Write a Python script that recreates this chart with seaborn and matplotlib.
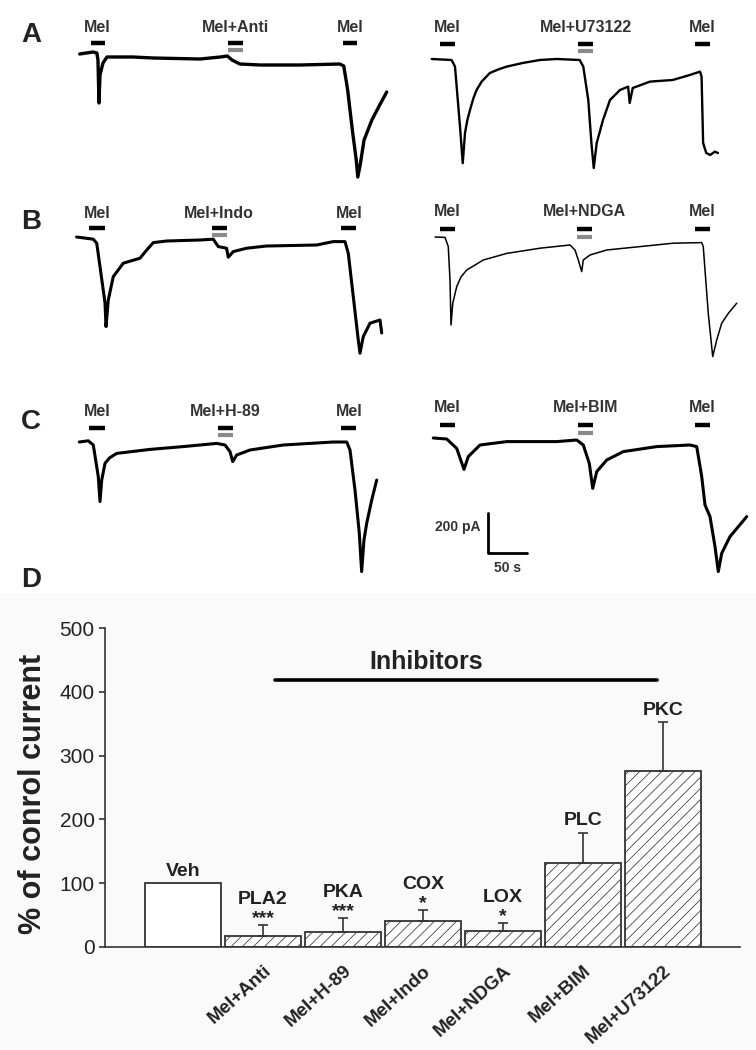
import numpy as np
import seaborn as sns
import matplotlib.pyplot as plt
from matplotlib.patches import Rectangle
from matplotlib.transforms import ScaledTranslation

sns.set_style("white")
plt.rcParams["font.family"] = ["Liberation Sans", "DejaVu Sans"]
plt.rcParams["hatch.linewidth"] = 0.55

# ---------------- panel D: % of control current ----------------
groups = ["Veh", "Mel+Anti", "Mel+H-89", "Mel+Indo", "Mel+NDGA", "Mel+BIM", "Mel+U73122"]
targets = ["Veh", "PLA2", "PKA", "COX", "LOX", "PLC", "PKC"]
pct = [100, 17, 24, 40, 25, 131, 276]
sem = [0, 17, 21, 18, 12, 48, 76]
stars = ["", "***", "***", "*", "*", "", ""]

# ---------------- traces: time (s) / current (pA) ----------------
a_left_t = [6, 23, 28, 29.4, 30.7, 32, 35.8, 41, 74, 100, 160, 186, 195, 201, 211, 237, 288, 339, 344,
            349, 355, 360, 362, 365, 370, 380, 390, 399]
a_left_i = [15, 25, 20, -15, -230, -90, -30, 0, 0, -5, -10, 0, 5, -15, -35, -40, -40, -35, -45,
            -165, -365, -515, -600, -540, -415, -315, -240, -175]
a_right_t = [8.6, 34, 38.4, 44.8, 48.3, 51.2, 54.2, 57.6, 61.9, 66, 72.5, 83, 93.9, 104.6, 125, 147, 168.6,
             198, 202.6, 209, 213, 216, 219.8, 227.8, 236.8, 249.6, 260, 262, 265.9, 288, 317, 339, 352,
             354, 356, 360, 365, 371, 375]
a_right_i = [0, -5, -38, -338, -521, -370, -305, -255, -197, -155, -113, -70, -52, -38, -20, -5, 0,
             -5, -38, -205, -420, -545, -420, -305, -205, -155, -138, -220, -145, -113, -105, -80, -63,
             -88, -420, -470, -480, -463, -470]
b_left_t = [2, 23.4, 27.8, 32, 38.4, 39.7, 42.6, 49, 61.8, 83.2, 91.8, 100.2, 117.4, 160, 177, 183.4, 194,
            196.2, 202.6, 219.8, 245.4, 309.4, 330.6, 345.6, 349.8, 356.2, 362.6, 364.8, 369, 377.6, 390.4, 392.6]
b_left_i = [0, -11, -31, -148, -330, -448, -315, -198, -131, -106, -65, -28, -20, -15, -11, -48, -56,
            -101, -73, -56, -45, -40, -23, -23, -81, -298, -515, -581, -498, -431, -415, -480]
b_right_t = [12.8, 25.6, 29.8, 32, 33.3, 35.5, 40.6, 46, 53.4, 74.6, 104.6, 147.2, 185.6, 192, 196.2, 200.6,
             202.6, 211.2, 232.6, 275.2, 317.8, 354.2, 356.2, 358.4, 362.6, 368.3, 373.4, 379.8, 388.2, 399]
b_right_i = [0, -2, -48, -215, -440, -332, -248, -200, -165, -115, -82, -56, -40, -65, -115, -173,
             -115, -90, -65, -48, -31, -28, -48, -165, -382, -598, -515, -431, -382, -331]
c_left_t = [5.5, 17, 23.4, 29.8, 32, 34.2, 38.4, 44, 53.4, 96, 138.6, 181.4, 192, 198.4, 201.9, 207, 224,
            266.6, 330.6, 347.8, 352, 358.4, 363.9, 366.9, 369.9, 373.4, 379.8, 386.2]
c_left_i = [0, 6, -15, -173, -298, -190, -107, -80, -57, -37, -23, -7, -15, -48, -98, -65, -40,
            -15, 0, 0, -40, -240, -456, -648, -490, -406, -290, -190]
c_right_t = [10.6, 27.8, 40.6, 49.9, 55.4, 70.4, 104.6, 168.6, 194.2, 202.6, 210.3, 214.7, 219.8, 232.6,
             253.8, 296.6, 339.2, 347.8, 354.2, 358.4, 364.8, 371.2, 375.4, 379.8, 390.4, 411.8]
c_right_i = [0, -5, -52, -157, -93, -35, -18, -18, -10, -35, -127, -252, -168, -110,
             -68, -43, -35, -43, -193, -335, -393, -543, -668, -576, -493, -393]

# drug applications (start, end) in s
a_left_drugs = [("Mel", 20, 38), ("Mel+Anti", 196, 215), ("Mel", 343, 361)]
a_right_drugs = [("Mel", 19, 38), ("Mel+U73122", 196, 215), ("Mel", 346, 365)]
b_left_drugs = [("Mel", 18, 38), ("Mel+Indo", 175, 194), ("Mel", 341, 360)]
b_right_drugs = [("Mel", 19, 38), ("Mel+NDGA", 195, 214), ("Mel", 346, 365)]
c_left_drugs = [("Mel", 18, 38), ("Mel+H-89", 183, 202), ("Mel", 341, 360)]
c_right_drugs = [("Mel", 19, 38), ("Mel+BIM", 196, 215), ("Mel", 346, 365)]

scale_pA = 200
scale_s = 50

W, H = 756, 1050
fig = plt.figure(figsize=(W / 100, H / 100), dpi=100)
fig.add_artist(Rectangle((0, 0), 1, 1 - 593 / H, transform=fig.transFigure,
                         facecolor="#fafafa", edgecolor="none", zorder=-10))

S_PER_PX, PA_PER_PX = 1.28, 5.0


def trace_axes(x0, base):
    ax = fig.add_axes([x0 / W, 1 - (base + 140) / H, 325 / W, 200 / H])
    ax.set_xlim(0, 325 * S_PER_PX)
    ax.set_ylim(-140 * PA_PER_PX, 60 * PA_PER_PX)
    ax.axis("off")
    return ax


def draw_trace(ax, t, cur, drugs, lw, bar_y, gray_y, lab_y):
    sns.lineplot(x=t, y=cur, ax=ax, color="black", lw=lw, sort=False, estimator=None)
    for k, (name, s0, s1) in enumerate(drugs):
        ax.hlines(bar_y, s0, s1, color="black", lw=3.2)
        if k == 1:
            ax.hlines(gray_y, s0, s1, color="#8a8a8a", lw=3.0)
        ax.text((s0 + s1) / 2, lab_y, name, ha="center", va="center", fontsize=11.5,
                weight="bold", color="#333333")


panels = [
    (75, 57, a_left_t, a_left_i, a_left_drugs, 2.4, 70, 35, 150),
    (425, 59, a_right_t, a_right_i, a_right_drugs, 1.7, 75, 40, 160),
    (75, 237, b_left_t, b_left_i, b_left_drugs, 2.2, 43, 10, 120),
    (425, 237, b_right_t, b_right_i, b_right_drugs, 1.1, 38, 2, 127),
    (75, 442, c_left_t, c_left_i, c_left_drugs, 2.2, 68, 35, 152),
    (425, 438, c_right_t, c_right_i, c_right_drugs, 2.2, 65, 27, 150),
]
trace_ax = []
for x0, base, t, cur, drugs, lw, by, gy, ly in panels:
    ax = trace_axes(x0, base)
    draw_trace(ax, t, cur, drugs, lw, by, gy, ly)
    trace_ax.append(ax)

# scale bar in last trace panel
sb = trace_ax[-1]
sx, sy = 80.6, -575
sb.plot([sx, sx, sx + scale_s], [sy + scale_pA, sy, sy], color="black", lw=2)
sb.text(sx - 9, sy + 130, f"{scale_pA} pA", ha="right", va="center", fontsize=10, weight="bold", color="#333333")
sb.text(sx + scale_s / 2, sy - 75, f"{scale_s} s", ha="center", va="center", fontsize=10, weight="bold", color="#333333")

for letter, (lx, ly) in zip("ABCD", [(31, 35), (31, 222), (31, 422), (31, 580)]):
    fig.text(lx / W, 1 - ly / H, letter, ha="center", va="center", fontsize=20, weight="bold", color="#222222")

# ---------------- bar chart ----------------
axd = fig.add_axes([105 / W, 1 - 947 / H, 635 / W, 319 / H])
axd.patch.set_alpha(0)
sns.barplot(x=groups, y=pct, ax=axd, color="white", saturation=1, edgecolor="#333333",
            linewidth=1.3, width=0.95, errorbar=None)
for k, p in enumerate(axd.patches):
    if k > 0:
        p.set_hatch("///")
xs = np.arange(len(groups))
axd.errorbar(xs[1:], pct[1:], yerr=[np.zeros(len(xs) - 1), sem[1:]], fmt="none", ecolor="#333333",
             elinewidth=1.2, capsize=3.5, capthick=1.2)

for k in range(len(groups)):
    top = pct[k] + sem[k]
    if stars[k]:
        axd.text(k, top + 3, stars[k], ha="center", va="baseline", fontsize=14, weight="bold", color="#222222")
        axd.text(k, top + 33, targets[k], ha="center", va="baseline", fontsize=14, weight="bold", color="#222222")
    else:
        axd.text(k, top + 12, targets[k], ha="center", va="baseline", fontsize=14, weight="bold", color="#222222")

axd.plot([1.15, 5.925], [418, 418], color="black", lw=2.6, clip_on=False)
axd.text(3.04, 447, "Inhibitors", ha="center", va="center", fontsize=18, weight="bold", color="#222222")

axd.set_xlim(-0.975, 6.96)
axd.set_ylim(0, 500)
axd.set_yticks(range(0, 501, 100))
axd.set_xticks(xs[1:])
axd.set_xticklabels(groups[1:], rotation=42, ha="right", va="top", rotation_mode="anchor",
                    fontsize=13.5, weight="bold", color="#222222")
off = ScaledTranslation(7 / 72, 0, fig.dpi_scale_trans)
for lab in axd.get_xticklabels():
    lab.set_transform(lab.get_transform() + off)
axd.tick_params(axis="x", length=0, pad=11)
axd.tick_params(axis="y", length=4, width=1.1, direction="out", labelsize=15, colors="#222222", left=True)
axd.set_ylabel("% of conrol current", fontsize=22, weight="bold", color="#222222")
axd.yaxis.set_label_coords(-0.09, 0.48)
sns.despine(ax=axd)
for sp in ["left", "bottom"]:
    axd.spines[sp].set_color("#333333")
    axd.spines[sp].set_linewidth(1.2)

fig.savefig("out.png", dpi=100)
